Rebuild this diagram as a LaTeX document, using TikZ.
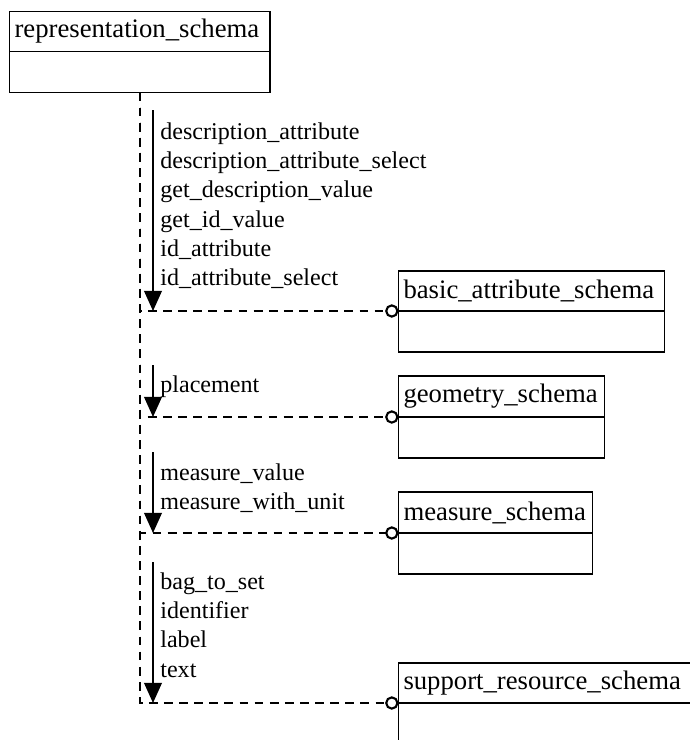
\documentclass[tikz,border=0pt]{standalone}
\usepackage{fontspec}
\setmainfont{Liberation Serif}
\usepackage{tikz}
\usetikzlibrary{arrows.meta,calc}
\newcommand\boxfont{\fontsize{15.2}{18}\selectfont}
\newcommand\lblfont{\fontsize{13.7}{16.7}\selectfont}

\begin{document}
\begin{tikzpicture}[
  schema/.style={draw, line width=1.1pt, outer sep=0pt, anchor=north west, inner xsep=0.1cm, inner ysep=0pt,
    text width=#1, minimum height=0.8cm, align=left, font=\boxfont},
  comp/.style={draw, line width=1.1pt, outer sep=0pt, anchor=north, inner sep=0pt, minimum width=#1, minimum height=0.82cm},
  link/.style={dashed, dash pattern=on 5pt off 3.6pt, line width=1.3pt, -{Circle[open,length=7.6pt,line width=1.2pt]}},
  feed/.style={line width=1pt, -{Triangle[length=11.4pt,width=10pt]}},
  lbl/.style={anchor=north west, inner sep=0pt, align=left, font=\lblfont}]
\useasboundingbox (0cm,0cm) rectangle (13.8cm,-14.8cm);
\clip (0cm,0cm) rectangle (13.8cm,-14.8cm);

\node[schema=5.01cm] (rep) at (0.19cm,-0.23cm) {representation\_schema};
\node[comp=5.21cm] (repb) at (rep.south) {};

\node[schema=5.12cm] (basic) at (7.97cm,-5.42cm) {basic\_attribute\_schema};
\node[comp=5.32cm] (basicb) at (basic.south) {};
\node[schema=3.92cm, minimum height=0.82cm] (geom) at (7.97cm,-7.52cm) {geometry\_schema};
\node[comp=4.12cm] (geomb) at (geom.south) {};
\node[schema=3.68cm, minimum height=0.82cm] (meas) at (7.97cm,-9.84cm) {measure\_schema};
\node[comp=3.88cm] (measb) at (meas.south) {};
\node[schema=6.4cm] (supp) at (7.97cm,-13.26cm) {support\_resource\_schema};
\node[comp=6.6cm] (suppb) at (supp.south) {};

\draw[link] (repb.south) |- (basic.south west);
\draw[link] (repb.south) |- (geom.south west);
\draw[link] (repb.south) |- (meas.south west);
\draw[link] (repb.south) |- (supp.south west);

\coordinate (a1) at (3.06cm,-2.2cm);
\coordinate (a2) at (3.06cm,-7.3cm);
\coordinate (a3) at (3.06cm,-9.04cm);
\coordinate (a4) at (3.06cm,-11.24cm);
\draw[feed] (a1) -- (a1 |- basic.south west);
\draw[feed] (a2) -- (a2 |- geom.south west);
\draw[feed] (a3) -- (a3 |- meas.south west);
\draw[feed] (a4) -- (a4 |- supp.south west);

\node[lbl] (l1) at (3.2cm,-2.44cm) {description\_attribute\\description\_attribute\_select\\get\_description\_value\\get\_id\_value\\id\_attribute\\id\_attribute\_select};
\node[lbl] (l2) at (3.2cm,-7.5cm) {placement};
\node[lbl] (l3) at (3.2cm,-9.26cm) {measure\_value\\measure\_with\_unit};
\node[lbl] (l4) at (3.2cm,-11.44cm) {bag\_to\_set\\identifier\\label\\text};
\end{tikzpicture}
\end{document}
